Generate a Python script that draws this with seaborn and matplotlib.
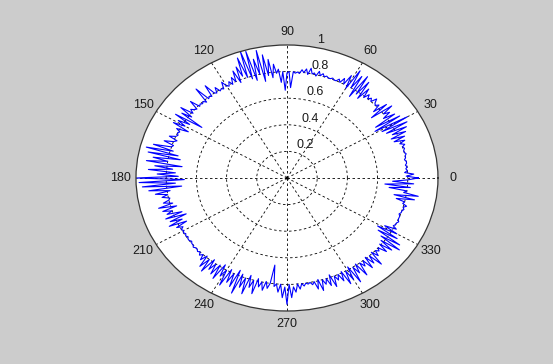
import numpy as np
import pandas as pd
import matplotlib
matplotlib.use("Agg")
import matplotlib.pyplot as plt
import seaborn as sns

# radius, one value per degree, 30 degrees per list
r_000 = [0.87, 0.79, 0.84, 0.78, 0.80, 0.79, 0.80, 0.79, 0.80, 0.80,
         0.79, 0.80, 0.80, 0.81, 0.80, 0.80, 0.81, 0.80, 0.82, 0.79,
         0.83, 0.76, 0.84, 0.75, 0.86, 0.77, 0.88, 0.74, 0.90, 0.72]
r_030 = [0.92, 0.68, 0.88, 0.70, 0.86, 0.78, 0.84, 0.80, 0.88, 0.72,
         0.86, 0.76, 0.82, 0.80, 0.81, 0.84, 0.80, 0.82, 0.80, 0.83,
         0.79, 0.86, 0.76, 0.90, 0.78, 0.93, 0.74, 0.91, 0.80, 0.94]
r_060 = [0.78, 0.88, 0.80, 0.84, 0.80, 0.82, 0.80, 0.80, 0.81, 0.80,
         0.80, 0.81, 0.80, 0.82, 0.80, 0.83, 0.79, 0.81, 0.80, 0.84,
         0.79, 0.83, 0.80, 0.82, 0.79, 0.80, 0.79, 0.80, 0.68, 0.80]
r_090 = [0.79, 0.66, 0.80, 0.72, 0.82, 0.79, 0.86, 0.76, 0.90, 0.78,
         0.94, 0.74, 0.98, 0.80, 0.92, 0.76, 0.99, 0.78, 1.00, 0.80,
         0.96, 0.82, 0.90, 0.78, 0.88, 0.80, 0.84, 0.79, 0.82, 0.79]
r_120 = [0.80, 0.84, 0.79, 0.80, 0.79, 0.83, 0.79, 0.80, 0.88, 0.79,
         0.80, 0.79, 0.90, 0.78, 0.80, 0.79, 0.80, 0.79, 0.86, 0.79,
         0.80, 0.82, 0.79, 0.88, 0.78, 0.85, 0.68, 0.88, 0.76, 0.84]
r_150 = [0.78, 0.86, 0.74, 0.82, 0.79, 0.80, 0.79, 0.80, 0.84, 0.78,
         0.80, 0.86, 0.79, 0.80, 0.92, 0.78, 0.96, 0.74, 0.94, 0.72,
         0.90, 0.80, 0.94, 0.70, 0.88, 0.76, 0.92, 0.74, 0.86, 0.72]
r_180 = [1.00, 0.68, 0.98, 0.74, 0.96, 0.70, 0.92, 0.78, 0.88, 0.80,
         0.84, 0.79, 0.80, 0.84, 0.78, 0.88, 0.76, 0.86, 0.80, 0.84,
         0.74, 0.86, 0.72, 0.84, 0.76, 0.86, 0.74, 0.82, 0.78, 0.80]
r_210 = [0.79, 0.80, 0.79, 0.80, 0.79, 0.80, 0.80, 0.79, 0.80, 0.80,
         0.81, 0.80, 0.80, 0.81, 0.80, 0.82, 0.80, 0.84, 0.79, 0.88,
         0.80, 0.90, 0.78, 0.86, 0.80, 0.88, 0.79, 0.90, 0.77, 0.86]
r_240 = [0.80, 0.92, 0.78, 0.88, 0.80, 0.90, 0.76, 0.94, 0.78, 0.88,
         0.80, 0.92, 0.77, 0.86, 0.80, 0.90, 0.78, 0.84, 0.80, 0.86,
         0.79, 0.84, 0.80, 0.66, 0.82, 0.80, 0.86, 0.80, 0.90, 0.82]
r_270 = [0.95, 0.80, 0.90, 0.82, 0.86, 0.80, 0.84, 0.80, 0.82, 0.80,
         0.81, 0.80, 0.82, 0.80, 0.86, 0.79, 0.88, 0.80, 0.84, 0.80,
         0.86, 0.78, 0.88, 0.80, 0.84, 0.80, 0.86, 0.79, 0.90, 0.80]
r_300 = [0.88, 0.78, 0.92, 0.80, 0.86, 0.79, 0.90, 0.80, 0.84, 0.80,
         0.88, 0.79, 0.86, 0.80, 0.90, 0.79, 0.84, 0.80, 0.82, 0.80,
         0.86, 0.79, 0.88, 0.78, 0.92, 0.76, 0.90, 0.72, 0.86, 0.70]
r_330 = [0.84, 0.74, 0.82, 0.79, 0.80, 0.80, 0.81, 0.80, 0.80, 0.80,
         0.79, 0.80, 0.80, 0.81, 0.80, 0.82, 0.79, 0.80, 0.74, 0.86,
         0.72, 0.88, 0.78, 0.80, 0.68, 0.82, 0.65, 0.84, 0.70, 0.80]

angle_ticks = [0, 30, 60, 90, 120, 150, 180, 210, 240, 270, 300, 330]
r_ticks = [0.2, 0.4, 0.6, 0.8, 1.0]
r_tick_labels = ["0.2", "0.4", "0.6", "0.8", "1"]

radius = (r_000 + r_030 + r_060 + r_090 + r_120 + r_150 +
          r_180 + r_210 + r_240 + r_270 + r_300 + r_330)
radius = radius + radius[:1]
df = pd.DataFrame({"theta": np.deg2rad(np.arange(len(radius))),
                   "r": radius})

plt.rcParams["font.family"] = ["Liberation Sans", "DejaVu Sans"]

fig = plt.figure(figsize=(5.53, 3.64), dpi=100)
fig.patch.set_facecolor("#cccccc")
ax = fig.add_axes([0.2459, 0.1456, 0.5461, 0.7308], projection="polar")
ax.set_aspect("auto")

sns.lineplot(data=df, x="theta", y="r", sort=False, estimator=None,
             color="#0000ff", linewidth=0.8, ax=ax)

ax.set_rlim(0, 1)
ax.set_thetagrids(angle_ticks, labels=[""] * len(angle_ticks))
ax.set_rgrids(r_ticks[:-1], labels=[""] * (len(r_ticks) - 1))
ax.grid(True, color="black", linestyle=(0, (3, 3)), linewidth=0.6)
ax.spines["polar"].set_color("#333333")
ax.spines["polar"].set_linewidth(0.9)
ax.set_xlabel("")
ax.set_ylabel("")

for a in angle_ticks:
    ax.text(np.deg2rad(a), 1.1, str(a), ha="center", va="center",
            fontsize=9, color="#1a1a1a")

for rv, lab in zip(r_ticks, r_tick_labels):
    ax.annotate(lab, xy=(np.deg2rad(80), rv), xytext=(4, 1),
                textcoords="offset pixels", ha="left", va="bottom",
                fontsize=9, color="#1a1a1a", annotation_clip=False)

fig.savefig("out.png", dpi=100, facecolor=fig.get_facecolor())
